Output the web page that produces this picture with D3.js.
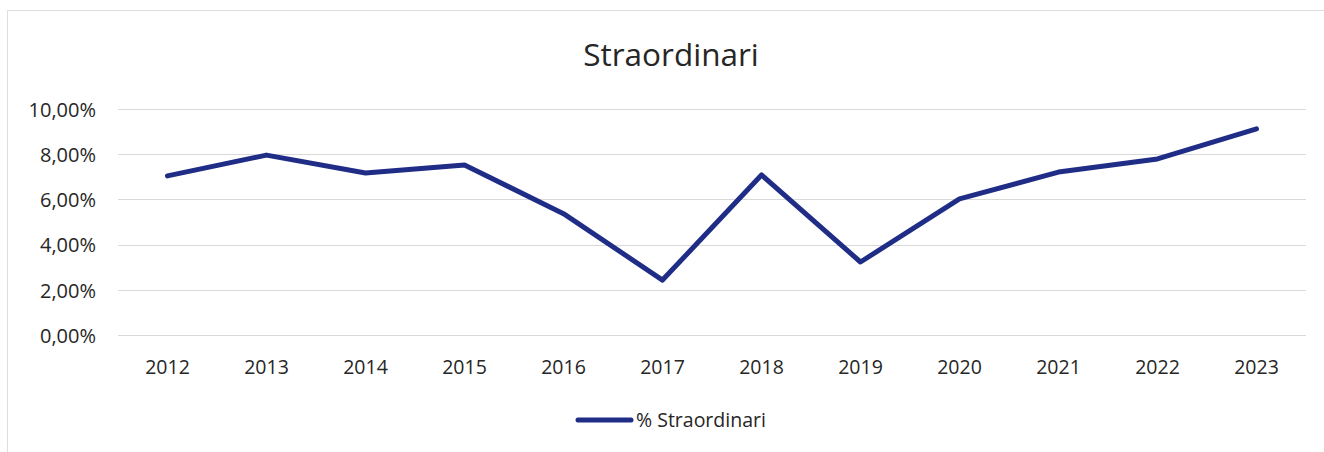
<!DOCTYPE html>
<html>
<head>
<meta charset="utf-8">
<script src="https://cdn.jsdelivr.net/npm/d3@7"></script>
<style>
  html, body { margin: 0; padding: 0; background: #ffffff; }
  svg { display: block; font-family: "Open Sans", "Noto Sans", sans-serif; }
</style>
</head>
<body>
<svg id="chart" width="1324" height="452"></svg>
<script>
const years = ["2012","2013","2014","2015","2016","2017","2018","2019","2020","2021","2022","2023"];
const straordinari = [0.0704, 0.0796, 0.0717, 0.0752, 0.0537, 0.0243, 0.0708, 0.0323, 0.0602, 0.0721, 0.0779, 0.0912];
const yTicks = [0, 0.02, 0.04, 0.06, 0.08, 0.10];
const chartTitle = "Straordinari";
const seriesName = "% Straordinari";

const svg = d3.select("#chart");
const lineColor = "#202d86";

// chart border
svg.append("rect")
  .attr("x", 7.5).attr("y", 10.5)
  .attr("width", 1340).attr("height", 460)
  .attr("fill", "none").attr("stroke", "#dedede").attr("stroke-width", 1);

const x = d3.scaleBand().domain(years).range([118, 1306]);
const y = d3.scaleLinear().domain([0, 0.10]).range([335, 109]);

// gridlines
svg.append("g").selectAll("line")
  .data(yTicks)
  .join("line")
  .attr("x1", 118).attr("x2", 1306)
  .attr("y1", d => Math.round(y(d)) + 0.5)
  .attr("y2", d => Math.round(y(d)) + 0.5)
  .attr("stroke", "#d9d9d9").attr("stroke-width", 1);

// y axis labels
const fmt = d => d3.format(".2f")(d * 100).replace(".", ",") + "%";
const yAxis = d3.axisLeft(y).tickValues(yTicks).tickFormat(fmt).tickSize(0).tickPadding(0);
const gy = svg.append("g").attr("transform", "translate(96,0)").call(yAxis);
gy.select(".domain").remove();
gy.selectAll("text")
  .attr("font-family", "'Open Sans', sans-serif")
  .attr("font-size", 20)
  .attr("fill", "#262626")
  .attr("dy", "0.36em");

// x axis labels
const xAxis = d3.axisBottom(x).tickSize(0).tickPadding(0);
const gx = svg.append("g").attr("transform", "translate(0,374)").call(xAxis);
gx.select(".domain").remove();
gx.selectAll("text")
  .attr("font-family", "'Open Sans', sans-serif")
  .attr("font-size", 19.5)
  .attr("fill", "#262626")
  .attr("y", 0)
  .attr("dy", 0);

// line
const line = d3.line()
  .x((d, i) => x(years[i]) + x.bandwidth() / 2)
  .y(d => y(d));

svg.append("path")
  .datum(straordinari)
  .attr("d", line)
  .attr("fill", "none")
  .attr("stroke", lineColor)
  .attr("stroke-width", 5)
  .attr("stroke-linejoin", "round")
  .attr("stroke-linecap", "round");

// title
svg.append("text")
  .attr("x", 671).attr("y", 66)
  .attr("text-anchor", "middle")
  .attr("font-size", 31.5)
  .attr("fill", "#262626")
  .text(chartTitle);

// legend
const lg = svg.append("g");
lg.append("line")
  .attr("x1", 578).attr("x2", 631)
  .attr("y1", 420).attr("y2", 420)
  .attr("stroke", lineColor).attr("stroke-width", 5)
  .attr("stroke-linecap", "round");
lg.append("text")
  .attr("x", 636).attr("y", 427)
  .attr("font-size", 19.5)
  .attr("fill", "#262626")
  .text(seriesName);
</script>
</body>
</html>
